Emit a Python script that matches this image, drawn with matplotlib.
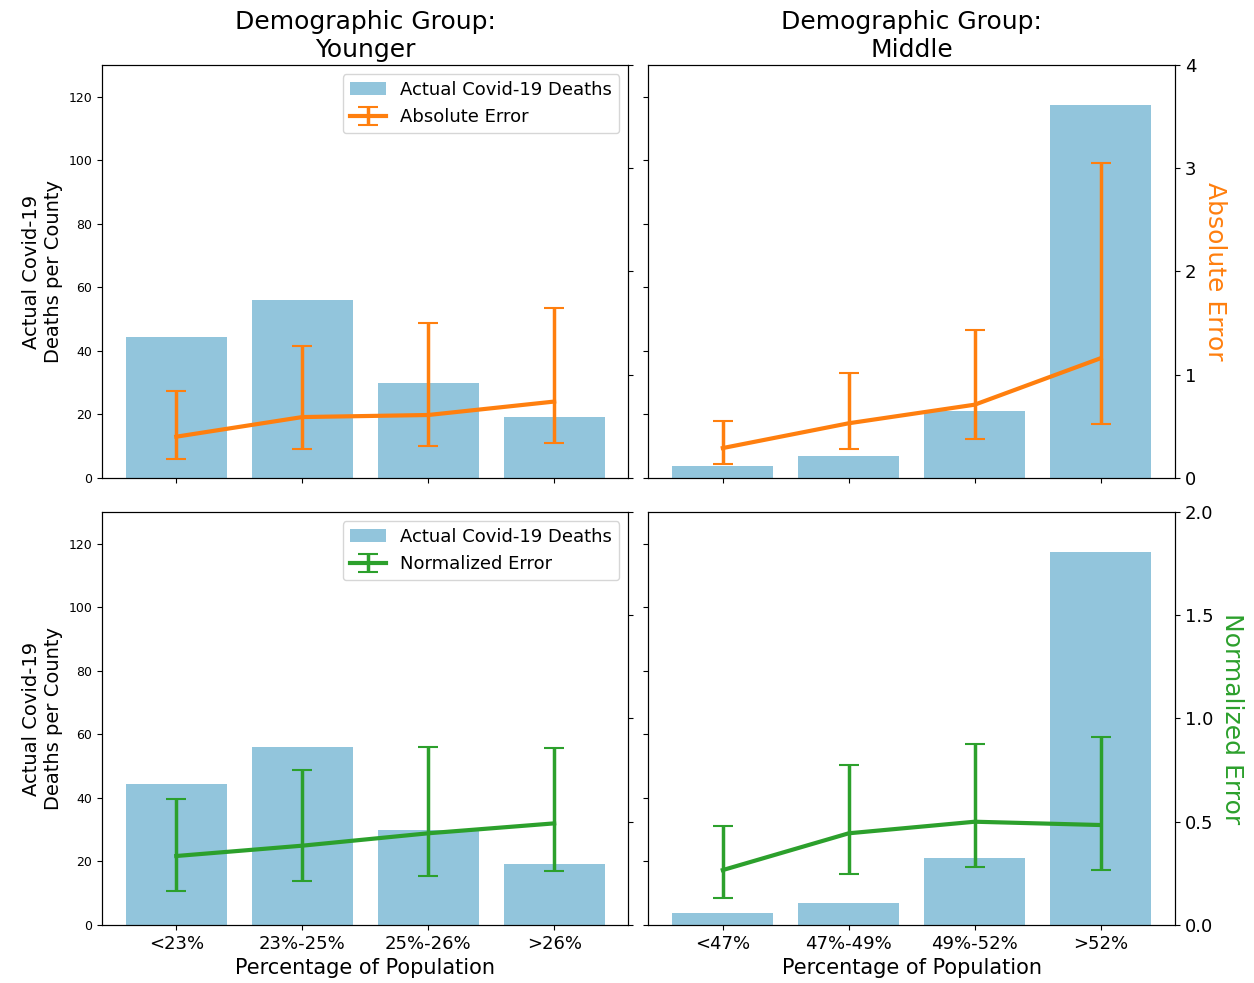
import matplotlib.pyplot as plt
import numpy as np

younger_bins = ['<23%', '23%-25%', '25%-26%', '>26%']
middle_bins = ['<47%', '47%-49%', '49%-52%', '>52%']

younger_deaths = [44.3, 55.9, 29.8, 19.2]
middle_deaths = [3.9, 6.9, 21.0, 117.5]

# absolute error: mean with lower / upper bounds
younger_abs = [0.40, 0.59, 0.61, 0.74]
younger_abs_lo = [0.18, 0.28, 0.31, 0.34]
younger_abs_hi = [0.84, 1.28, 1.50, 1.65]
middle_abs = [0.29, 0.53, 0.71, 1.16]
middle_abs_lo = [0.14, 0.28, 0.38, 0.52]
middle_abs_hi = [0.555, 1.02, 1.43, 3.05]

# normalized error: mean with lower / upper bounds
younger_norm = [0.334, 0.384, 0.444, 0.492]
younger_norm_lo = [0.166, 0.215, 0.239, 0.261]
younger_norm_hi = [0.61, 0.749, 0.864, 0.856]
middle_norm = [0.266, 0.444, 0.50, 0.484]
middle_norm_lo = [0.132, 0.245, 0.279, 0.266]
middle_norm_hi = [0.479, 0.776, 0.877, 0.909]

bar_color = '#92c5dc'
abs_color = '#ff7f0e'
norm_color = '#2ca02c'

fig, axes = plt.subplots(2, 2, figsize=(12.54, 9.83), dpi=100, sharey=True)
plt.subplots_adjust(left=0.0813, right=0.937, bottom=0.059, top=0.934,
                    wspace=0.038, hspace=0.082)

rows = [
    ('Absolute Error', abs_color, (0, 4), [0, 1, 2, 3, 4],
     [(younger_abs, younger_abs_lo, younger_abs_hi), (middle_abs, middle_abs_lo, middle_abs_hi)]),
    ('Normalized Error', norm_color, (0, 2), [0, 0.5, 1.0, 1.5, 2.0],
     [(younger_norm, younger_norm_lo, younger_norm_hi), (middle_norm, middle_norm_lo, middle_norm_hi)]),
]
groups = [('Younger', younger_bins, younger_deaths), ('Middle', middle_bins, middle_deaths)]

for r, (err_name, err_color, err_lim, err_ticks, err_data) in enumerate(rows):
    for c, (gname, bins, deaths) in enumerate(groups):
        ax = axes[r, c]
        x = np.arange(len(bins))
        bars = ax.bar(x, deaths, width=0.8, color=bar_color, label='Actual Covid-19 Deaths')
        ax.set_ylim(0, 130)
        ax.set_xticks(x)
        ax.tick_params(axis='y', labelsize=9)
        if r == 1:
            ax.set_xticklabels(bins, fontsize=13)
            ax.set_xlabel('Percentage of Population', fontsize=15)
        else:
            ax.set_xticklabels([])
            ax.set_title('Demographic Group:\n' + gname, fontsize=18)
        if c == 0:
            ax.set_ylabel('Actual Covid-19\nDeaths per County', fontsize=14)

        tw = ax.twinx()
        mean, lo, hi = err_data[c]
        mean = np.array(mean)
        yerr = [mean - np.array(lo), np.array(hi) - mean]
        eb = tw.errorbar(x, mean, yerr=yerr, color=err_color, lw=3, elinewidth=2.5,
                         capsize=7, capthick=1.5, label=err_name)
        tw.set_ylim(*err_lim)
        tw.set_yticks(err_ticks)
        if c == 1:
            tw.tick_params(axis='y', labelsize=13)
            tw.set_ylabel(err_name, color=err_color, fontsize=18, rotation=270, labelpad=22)
        else:
            tw.set_yticklabels([])
            handles = [bars, eb]
            tw.legend(handles, [h.get_label() for h in handles], loc='upper right', fontsize=13)

plt.savefig('out.png', dpi=100)
